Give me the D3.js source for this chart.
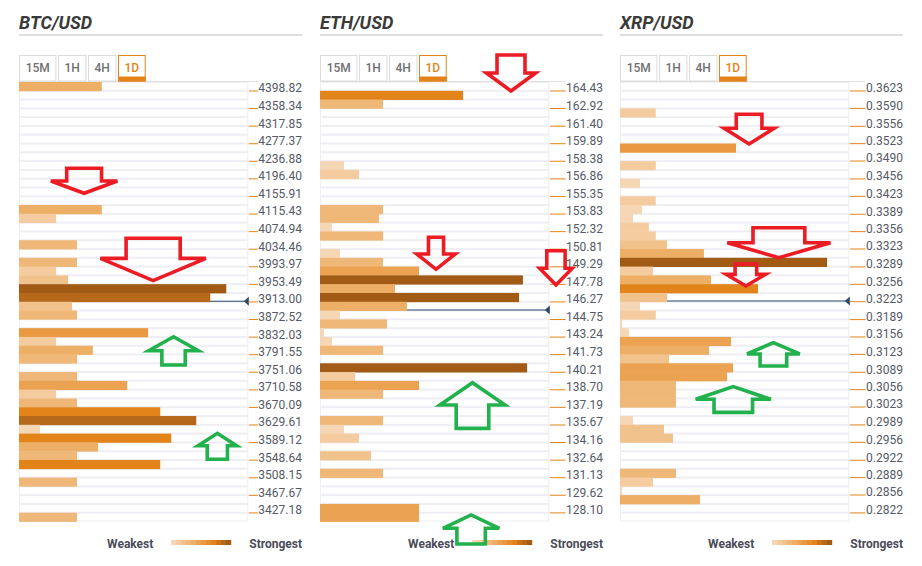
<!DOCTYPE html>
<html><head><meta charset="utf-8">
<script src="https://cdn.jsdelivr.net/npm/d3@7"></script>
<style>
body{margin:0;background:#fff;}
svg{display:block;font-family:Roboto,"Noto Sans",sans-serif;}
</style>
</head><body>
<svg id="chart" width="922" height="566"></svg>
<script>
// ---------------- DATA ----------------
const pairs = ["BTC/USD", "ETH/USD", "XRP/USD"];
const timeframes = ["15M", "1H", "4H", "1D"];
const activeTimeframe = "1D";

const btcTicks = ["4398.82","4358.34","4317.85","4277.37","4236.88","4196.40","4155.91","4115.43","4074.94","4034.46","3993.97","3953.49","3913.00","3872.52","3832.03","3791.55","3751.06","3710.58","3670.09","3629.61","3589.12","3548.64","3508.15","3467.67","3427.18"];
const ethTicks = ["164.43","162.92","161.40","159.89","158.38","156.86","155.35","153.83","152.32","150.81","149.29","147.78","146.27","144.75","143.24","141.73","140.21","138.70","137.19","135.67","134.16","132.64","131.13","129.62","128.10"];
const xrpTicks = ["0.3623","0.3590","0.3556","0.3523","0.3490","0.3456","0.3423","0.3389","0.3356","0.3323","0.3289","0.3256","0.3223","0.3189","0.3156","0.3123","0.3089","0.3056","0.3023","0.2989","0.2956","0.2922","0.2889","0.2856","0.2822"];

// confluence strength per price row (top row = highest price), 50 rows each, 0-100 scale
const btcStrength = [36.1,0,0,0,0,0,0,0,0,0, 0,0,0,0,36.1,16.2,0,0,25.3,0, 25.3,16.2,21.4,90.4,83.4,23.1,25.3,0,56.3,16.2, 32.2,25.3,0,25.3,47.2,16.2,25.3,61.6,77.3,9.2, 66.4,34.5,25.3,61.6,0,25.3,0,0,0,25.3];
const ethStrength = [0,62.4,27.5,0,0,0,0,0,0,10.5, 17.0,0,0,0,27.5,25.7,5.2,27.5,0,8.7, 27.5,43.2,88.5,32.7,86.8,37.9,8.7,29.2,1.7,5.2, 27.5,0,90.3,15.3,43.2,27.5,0,0,27.5,10.5, 17.0,0,22.2,0,27.5,0,0,0,43.2,43.2];
const xrpStrength = [0,0,0,15.6,0,0,0,50.6,0,15.6, 0,8.7,0,15.6,9.6,5.7,12.6,15.6,20.5,36.6, 90.3,14.4,39.7,60.2,20.5,8.7,15.6,0.9,3.9,48.4, 38.8,21.4,49.3,46.7,24.4,24.4,24.4,0,5.7,19.2, 23.1,0,0,0,24.4,14.4,0.9,34.9,0,0];

const currentPrices = [3913.00, 145.51, 0.3223];

const strengthColors = ["#f6d7b5","#f4cc9f","#f2c28c","#efb878","#edae65","#eba352","#e99941","#e68e2d","#e3841b","#cb7418","#b6691a","#a15b15"];
const strengthThresholds = [11.8, 18.8, 24, 31.4, 41.9, 50.2, 58.5, 60, 72, 76.4, 86];

// annotation arrows in data units: x in strength units, y in row units
const arrows = [
  {panel:0, color:"red",   cx:28.4, stem:7.6,  head:14.5, tail:9.82,  neck:11.26, tip:12.66},
  {panel:0, color:"red",   cx:58.5, stem:11.8, head:23.0, tail:17.78, neck:20.06, tip:22.6},
  {panel:0, color:"green", cx:67.4, stem:5.1,  head:10.8, tail:32.2,  neck:30.57, tip:28.98},
  {panel:0, color:"green", cx:86.5, stem:4.4,  head:8.4,  tail:42.92, neck:41.38, tip:39.97},
  {panel:1, color:"red",   cx:83.3, stem:6.1,  head:10.7, tail:-3.07, neck:-1.02, tip:1.02},
  {panel:1, color:"red",   cx:50.6, stem:3.3,  head:8.4,  tail:17.67, neck:19.57, tip:21.31},
  {panel:1, color:"red",   cx:102.9,stem:4.0,  head:7.1,  tail:19.19, neck:21.19, tip:23.09},
  {panel:1, color:"green", cx:66.5, stem:7.1,  head:14.2, tail:39.4,  neck:36.75, tip:34.21},
  {panel:1, color:"green", cx:65.9, stem:6.2,  head:12.3, tail:52.56, neck:50.77, tip:49.26},
  {panel:2, color:"red",   cx:56.3, stem:5.6,  head:10.9, tail:3.67,  neck:5.27,  tip:7.05},
  {panel:2, color:"red",   cx:69.3, stem:11.3, head:22.5, tail:16.58, neck:18.28, tip:19.99},
  {panel:2, color:"red",   cx:54.9, stem:4.7,  head:8.6,  tail:20.71, neck:21.88, tip:23.21},
  {panel:2, color:"green", cx:66.9, stem:5.8,  head:11.5, tail:32.31, neck:30.94, tip:29.66},
  {panel:2, color:"green", cx:49.4, stem:8.4,  head:16.4, tail:37.58, neck:36.1,  tip:34.66}
];

// ---------------- DRAW ----------------
const tickSets = [btcTicks, ethTicks, xrpTicks];
const strengthSets = [btcStrength, ethStrength, xrpStrength];
const arrowColors = {red:"#ec1c24", green:"#22b14c"};

const svg = d3.select("#chart");
const panelLeft = [19, 320, 620];
const plotW = 229.3;
const nRows = 50;
const rowY = d3.scaleLinear().domain([0, nRows]).range([82, 521.5]);
const rowH = rowY(1) - rowY(0);
const color = d3.scaleThreshold().domain(strengthThresholds).range(strengthColors);
const tabWidths = {"15M":37.4, "1H":28.4, "4H":28.4, "1D":27.7};

pairs.forEach((pair, p) => {
  const L = panelLeft[p];
  const R = L + 283;
  const x = d3.scaleLinear().domain([0, 100]).range([L, L + plotW]);
  const ticks = tickSets[p];
  const vals = strengthSets[p];
  const priceY = d3.scaleLinear()
    .domain([+ticks[0], +ticks[ticks.length - 1]])
    .range([rowY(1), rowY(2 * (ticks.length - 1) + 1)]);
  const g = svg.append("g");

  // title
  g.append("text").attr("x", L).attr("y", 29)
    .attr("font-size", 18).attr("font-weight", 700).attr("font-style", "italic")
    .attr("fill", "#3a3a3a").text(pair);
  g.append("rect").attr("x", L).attr("y", 34).attr("width", R - L).attr("height", 2).attr("fill", "#dedede");

  // tick labels
  const labels = g.append("g");
  labels.selectAll("text").data(ticks).join("text")
    .attr("x", R).attr("y", d => priceY(+d) + 1.6)
    .attr("text-anchor", "end").attr("font-size", 12).attr("fill", "#555a66")
    .text(d => d);
  let maxW = 0;
  labels.selectAll("text").each(function(){ maxW = Math.max(maxW, this.getComputedTextLength()); });
  const dashEnd = R - maxW - 0.5;

  // top border line of tab row
  g.append("line").attr("x1", L).attr("x2", dashEnd).attr("y1", 81.5).attr("y2", 81.5)
    .attr("stroke", "#e2e2e2").attr("stroke-width", 1);

  // tabs
  let tx = L + 0.5;
  timeframes.forEach(tf => {
    const w = tabWidths[tf];
    const active = tf === activeTimeframe;
    g.append("rect").attr("x", tx).attr("y", 55.5).attr("width", w - 1).attr("height", 25.5)
      .attr("fill", "#fff").attr("stroke", active ? "#e3831a" : "#dcdcdc").attr("stroke-width", 1);
    if (active) g.append("rect").attr("x", tx - 0.5).attr("y", 76.5).attr("width", w).attr("height", 5).attr("fill", "#e3831a");
    g.append("text").attr("x", tx + (w - 1) / 2).attr("y", 71.5).attr("text-anchor", "middle")
      .attr("font-size", 12).attr("font-weight", 500).attr("fill", active ? "#e3831a" : "#707070").text(tf);
    tx += w + 1.6;
  });

  // row backgrounds
  g.append("rect").attr("x", L).attr("y", rowY(0)).attr("width", plotW).attr("height", rowY(nRows) - rowY(0)).attr("fill", "#eeeef4");
  g.append("g").selectAll("rect").data(d3.range(nRows)).join("rect")
    .attr("x", L + 1).attr("y", d => rowY(d) + 1).attr("width", plotW - 2).attr("height", rowH - 2).attr("fill", "#fff");

  // current price line (under bars)
  const py = priceY(currentPrices[p]) - 0.5;
  g.append("line").attr("x1", L).attr("x2", L + plotW - 2).attr("y1", py).attr("y2", py)
    .attr("stroke", "#2c4a6d").attr("stroke-width", 1.1);

  // bars
  g.append("g").selectAll("rect").data(vals.map((v, i) => ({v, i})).filter(d => d.v > 0)).join("rect")
    .attr("x", L).attr("y", d => rowY(d.i)).attr("width", d => x(d.v) - L).attr("height", rowH + 0.4)
    .attr("fill", d => color(d.v));

  // price marker
  g.append("path").attr("d", `M${L + plotW - 4.5},${py} L${L + plotW + 0.5},${py - 4.5} L${L + plotW + 0.5},${py + 4.5} Z`)
    .attr("fill", "#2c4a6d");

  // tick dashes
  g.append("g").selectAll("line").data(ticks).join("line")
    .attr("x1", L + plotW + 0.5).attr("x2", dashEnd)
    .attr("y1", d => priceY(+d) + 0.2).attr("y2", d => priceY(+d) + 0.2)
    .attr("stroke", "#e3831a").attr("stroke-width", 1);

  // legend
  g.append("text").attr("x", R - 148.7).attr("y", 548).attr("text-anchor", "end")
    .attr("font-size", 12).attr("font-weight", 700).attr("fill", "#4b4b58").text("Weakest");
  g.append("g").selectAll("rect").data(strengthColors).join("rect")
    .attr("x", (d, i) => R - 131 + i * 5).attr("y", 540).attr("width", 5.2).attr("height", 5).attr("fill", d => d);
  g.append("text").attr("x", R).attr("y", 548).attr("text-anchor", "end")
    .attr("font-size", 12).attr("font-weight", 700).attr("fill", "#4b4b58").text("Strongest");

  // arrows
  g.append("g").selectAll("path").data(arrows.filter(a => a.panel === p)).join("path")
    .attr("d", a => {
      const c = x(a.cx), s = x(a.cx + a.stem) - c, h = x(a.cx + a.head) - c;
      const t = rowY(a.tail), n = rowY(a.neck), k = rowY(a.tip);
      return `M${c - s},${t} L${c + s},${t} L${c + s},${n} L${c + h},${n} L${c},${k} L${c - h},${n} L${c - s},${n} Z`;
    })
    .attr("fill", "none").attr("stroke", a => arrowColors[a.color]).attr("stroke-width", 3.6)
    .attr("stroke-linejoin", "miter");
});
</script>
</body></html>
